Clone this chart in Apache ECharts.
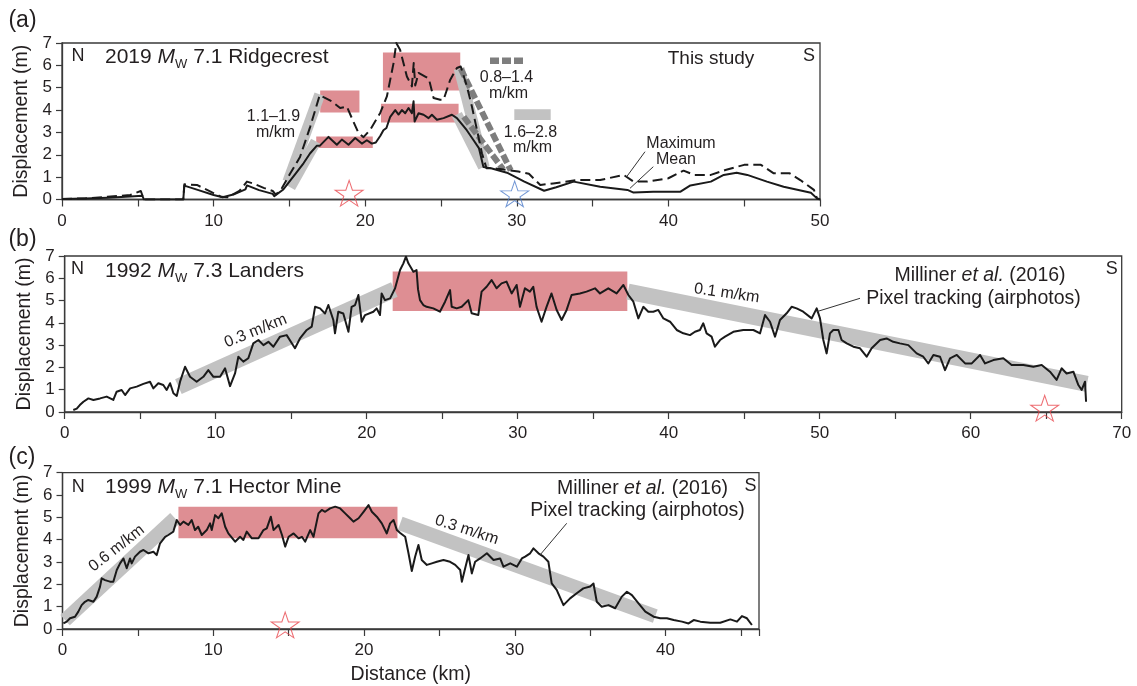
<!DOCTYPE html>
<html><head><meta charset="utf-8">
<script src="https://cdn.jsdelivr.net/npm/echarts@6/dist/echarts.min.js"></script>
<style>html,body{margin:0;padding:0;background:#fff}#c{width:1137px;height:686px}</style>
</head><body><div id="c"></div>
<script>
// ---------- DATA ----------
const xTickLabels = [0,10,20,30,40,50,60,70];
const xMaxA = 50, xMaxB = 70, xMaxC = 46.2;
const yMax = 7;

// (a) Ridgecrest: mean (solid) and maximum (dashed)
const ridgecrestMean = [[0,0.02],[1.5,0.04],[3,0.08],[4.5,0.13],[5.3,0.17],[5.4,0],[8.0,0],[8.07,0.62],[9.0,0.42],[10.0,0.2],[10.6,0.1],[11.3,0.22],[12.1,0.45],[12.2,0.63],[13.0,0.42],[13.9,0.25],[14.0,0.15],[14.6,0.45],[15.27,1.03],[15.93,1.62],[16.37,2.07],[16.8,2.4],[17.0,2.4],[17.58,2.8],[18.13,2.45],[18.46,2.68],[18.9,2.45],[19.34,2.75],[19.78,2.5],[20.11,2.65],[20.44,2.5],[20.7,2.55],[21.0,2.85],[21.2,3.1],[21.4,3.2],[21.65,3.7],[21.98,4.0],[22.2,3.8],[22.42,4.0],[22.64,3.86],[22.86,4.09],[23.08,3.86],[23.19,4.39],[23.26,3.49],[23.52,3.86],[23.85,3.79],[24.18,3.64],[24.4,3.79],[24.73,3.57],[25.17,3.64],[25.72,3.79],[26.05,3.64],[26.7,3.1],[27.15,2.65],[27.5,2.3],[27.8,1.45],[28.3,1.4],[29.35,1.2],[30.5,0.8],[31.8,0.39],[32.6,0.55],[33.75,0.8],[35.5,0.57],[37.3,0.43],[37.7,0.31],[39.0,0.35],[40.8,0.35],[41.45,0.63],[42.8,0.8],[43.65,1.1],[44.5,1.2],[45.2,1.1],[46.5,0.8],[47.6,0.57],[49.4,0.3],[49.8,0.05],[50,0]];
const ridgecrestMax = [[0,0.02],[1.5,0.05],[3,0.12],[4.5,0.2],[5.2,0.38],[5.3,0.4],[5.4,0],[8.0,0],[8.07,0.68],[8.9,0.65],[9.8,0.35],[10.5,0.12],[10.9,0.1],[11.7,0.38],[12.2,0.8],[12.6,0.72],[13.3,0.52],[13.9,0.38],[14.1,0.22],[14.5,0.5],[15.05,1.16],[15.7,1.9],[16.37,3.25],[17.0,4.67],[17.8,4.39],[18.35,4.09],[18.79,4.16],[19.12,3.64],[19.56,2.97],[19.89,2.79],[20.33,3.12],[20.99,3.87],[21.43,4.61],[21.87,6.1],[22.05,7.0],[22.3,6.7],[22.75,5.5],[23.08,5.06],[23.2,6.1],[23.3,5.1],[23.52,5.66],[23.96,5.5],[24.2,5.4],[24.51,4.54],[24.95,4.46],[25.17,4.46],[25.61,5.36],[26.05,5.88],[26.3,5.95],[26.71,5.06],[27.04,4.16],[27.37,3.12],[27.7,2.07],[28.0,1.4],[28.5,1.4],[29.0,1.35],[30.1,1.25],[30.8,1.15],[31.55,0.65],[32.4,0.72],[34.0,0.87],[35.5,0.87],[37.05,1.1],[37.7,0.8],[38.6,0.8],[40.0,0.95],[41.0,1.29],[41.7,1.1],[42.8,1.1],[43.76,1.32],[45.0,1.55],[46.1,1.55],[46.95,1.17],[48.0,1.17],[48.7,0.87],[49.6,0.43],[49.8,0.05],[50,0]];
const ridgecrestBoxes = [[17.03,19.62,3.89,4.88],[16.77,20.5,2.3,2.82],[21.17,26.27,4.88,6.58],[21.04,26.16,3.44,4.28]]; // [x1,x2,y1,y2]
const ridgecrestGrayBands = [[[14.9,0.8],[17.0,4.7]],[[15.05,0.55],[16.75,2.6]],[[26.2,5.85],[27.85,1.45]],[[26.05,3.8],[27.8,1.45]]];
const ridgecrestDottedBands = [[[26.3,5.85],[29.6,1.3]],[[26.5,3.7],[29.1,1.35]]];
const ridgecrestRedStars = [[18.94,0.28]];
const ridgecrestBlueStars = [[29.86,0.25]];

// (b) Landers
const landers = [[0.57,0.09],[0.8,0.15],[1.0,0.31],[1.24,0.46],[1.57,0.61],[1.9,0.54],[2.34,0.61],[2.78,0.69],[3.22,0.54],[3.44,0.91],[3.77,0.99],[4.0,0.76],[4.33,1.06],[4.77,1.14],[5.21,1.26],[5.65,1.36],[5.87,1.06],[6.2,1.29],[6.53,1.21],[6.75,0.99],[6.98,1.29],[7.2,0.84],[7.42,0.72],[7.64,1.36],[7.97,2.03],[8.3,1.58],[8.74,1.36],[9.18,1.58],[9.51,1.88],[9.85,1.58],[10.29,1.58],[10.62,1.96],[10.95,1.16],[11.28,1.73],[11.5,2.48],[11.83,2.26],[12.16,2.41],[12.49,3.08],[12.83,3.23],[13.16,3.0],[13.49,3.15],[13.82,2.93],[14.26,3.38],[14.7,3.45],[15.25,2.86],[15.58,3.3],[16.03,3.68],[16.36,3.83],[16.58,4.72],[16.91,4.65],[17.24,4.42],[17.46,4.8],[17.79,4.13],[17.9,3.53],[18.12,4.5],[18.45,4.42],[18.79,3.6],[19.0,4.72],[19.23,4.8],[19.45,5.25],[19.67,4.05],[19.89,4.35],[20.44,4.5],[20.66,4.65],[20.88,4.35],[20.99,5.32],[21.21,5.02],[21.55,5.1],[21.88,5.55],[22.21,6.37],[22.43,6.67],[22.6,6.97],[22.76,6.67],[23.09,6.29],[23.3,6.37],[23.4,5.5],[23.53,5.02],[23.75,4.8],[23.97,4.72],[24.41,4.65],[24.85,4.5],[25.19,4.95],[25.52,5.47],[25.63,4.72],[25.96,4.65],[26.29,4.72],[26.73,5.02],[26.95,4.43],[27.39,4.35],[27.61,5.4],[27.94,5.62],[28.27,5.92],[28.6,5.55],[28.93,5.77],[29.26,5.85],[29.6,5.32],[29.93,5.7],[30.15,4.72],[30.48,5.55],[30.81,5.4],[31.03,5.62],[31.25,4.72],[31.58,4.05],[31.91,4.72],[32.24,5.32],[32.58,4.58],[32.91,4.13],[33.24,4.58],[33.57,5.25],[34.12,5.32],[34.56,5.4],[35.12,5.55],[35.45,5.32],[36.0,5.55],[36.55,5.32],[37.0,5.7],[37.33,5.25],[37.66,4.95],[37.99,4.2],[38.32,4.72],[38.65,4.5],[38.98,4.5],[39.31,4.58],[39.65,4.2],[40.09,4.05],[40.53,3.68],[40.97,3.53],[41.41,3.45],[41.74,3.6],[42.07,3.68],[42.29,3.98],[42.51,3.53],[42.84,3.38],[43.06,2.93],[43.4,3.23],[43.73,3.38],[44.28,3.6],[44.94,3.68],[45.61,3.68],[46.05,3.53],[46.38,4.35],[46.71,4.05],[47.04,3.38],[47.37,4.13],[47.81,4.43],[48.14,4.72],[48.47,4.65],[48.91,4.5],[49.47,4.2],[49.8,4.65],[50.02,4.2],[50.24,3.23],[50.46,2.63],[50.68,3.53],[50.9,3.68],[51.24,3.68],[51.45,3.23],[51.79,3.08],[52.23,2.93],[52.67,2.86],[53.11,2.48],[53.44,2.86],[54.0,3.23],[54.43,3.3],[54.87,3.15],[55.31,3.08],[55.87,3.0],[56.42,2.63],[56.86,2.48],[57.19,2.18],[57.53,2.56],[57.97,2.48],[58.3,1.88],[58.63,2.41],[59.08,2.56],[59.63,2.18],[60.07,2.18],[60.62,2.56],[60.95,2.18],[61.5,2.33],[62.16,2.41],[62.71,2.11],[63.49,2.11],[64.15,2.03],[64.7,2.11],[65.25,1.81],[65.69,1.44],[66.02,1.96],[66.35,1.73],[66.8,1.81],[67.13,1.21],[67.35,0.99],[67.57,1.36],[67.64,0.46]];
const landersBoxes = [[21.72,37.26,4.53,6.3]];
const landersGrayBands = [[[7.53,1.14],[21.83,5.5]],[[37.3,5.4],[67.7,1.26]]];
const landersStars = [[64.9,0.17]];

// (c) Hector Mine
const hectorMine = [[0.06,0.25],[0.28,0.33],[0.5,0.48],[0.83,0.55],[1.05,0.78],[1.27,1.07],[1.49,1.22],[1.71,1.3],[2.05,1.22],[2.27,1.45],[2.49,1.9],[2.6,2.27],[2.82,2.19],[3.15,2.12],[3.37,2.12],[3.6,2.64],[3.82,2.94],[4.04,3.16],[4.26,2.72],[4.48,3.16],[4.59,2.94],[4.81,3.24],[5.14,3.46],[5.37,3.54],[5.7,3.39],[6.03,3.46],[6.25,3.31],[6.47,3.84],[6.81,4.13],[7.02,4.21],[7.35,4.36],[7.58,4.88],[7.8,4.66],[8.02,4.81],[8.35,4.66],[8.57,4.88],[8.79,4.43],[9.0,4.58],[9.24,4.21],[9.57,4.43],[9.79,4.73],[9.9,4.43],[10.12,5.1],[10.34,4.96],[10.56,5.18],[10.79,4.58],[11.0,4.28],[11.45,3.91],[11.78,4.13],[12.0,3.99],[12.22,4.36],[12.56,4.06],[13.0,4.06],[13.33,4.43],[13.55,4.51],[13.82,5.03],[14.0,4.43],[14.33,4.66],[14.56,4.21],[14.77,3.69],[15.0,4.13],[15.33,4.28],[15.66,4.06],[15.88,4.13],[16.1,3.91],[16.43,4.43],[16.65,4.13],[16.98,5.18],[17.2,5.33],[17.42,5.25],[17.75,5.4],[18.09,5.48],[18.42,5.4],[18.75,5.18],[19.08,4.96],[19.3,4.81],[19.64,4.96],[19.97,5.25],[20.3,5.55],[20.52,5.25],[20.85,5.03],[21.18,4.73],[21.51,4.28],[21.73,4.73],[21.96,4.88],[22.18,4.43],[22.4,4.3],[22.73,4.13],[22.95,3.39],[23.17,2.6],[23.39,3.24],[23.61,3.76],[23.83,3.09],[24.17,2.87],[24.5,2.94],[24.83,3.01],[25.27,3.09],[25.71,3.01],[26.05,2.87],[26.38,2.64],[26.49,2.12],[26.71,2.72],[26.93,3.31],[27.15,2.49],[27.37,3.01],[27.7,3.16],[28.15,3.39],[28.59,3.09],[29.03,3.16],[29.25,2.79],[29.7,2.94],[30.14,2.79],[30.47,3.16],[30.69,3.24],[31.02,3.39],[31.24,3.61],[31.57,3.39],[31.9,3.24],[32.23,3.01],[32.45,2.04],[32.78,1.75],[33.23,1.07],[33.67,1.37],[34.11,1.6],[34.55,1.82],[35.0,1.9],[35.22,2.04],[35.44,1.22],[35.77,1.0],[36.22,1.07],[36.66,0.93],[37.1,1.45],[37.44,1.67],[37.77,1.52],[38.21,1.15],[38.66,0.78],[39.21,0.55],[39.65,0.48],[40.09,0.48],[40.54,0.4],[41.09,0.33],[41.53,0.25],[41.87,0.4],[42.31,0.33],[42.97,0.28],[43.63,0.28],[44.3,0.43],[44.74,0.33],[45.07,0.58],[45.4,0.48],[45.73,0.18]];
const hectorBoxes = [[7.69,22.22,4.06,5.48]];
const hectorGrayBands = [[[0.17,0.4],[7.46,4.96]],[[22.4,4.73],[39.32,0.58]]];
const hectorStars = [[14.77,0.18]];

// ---------- STYLE ----------
const FONT = '"Liberation Sans", Arial, Helvetica, sans-serif';
const TXT = '#231f20';
const AX = '#3a3a3a';
const RED_BOX = '#de8e93';
const GRAY = '#c2c2c2';
const DOT_GRAY = '#7e7e7e';
const STAR = 'path://M0,-10 L2.245,-3.09 L9.511,-3.09 L3.633,1.18 L5.878,8.09 L0,3.82 L-5.878,8.09 L-3.633,1.18 L-9.511,-3.09 L-2.245,-3.09 Z';

const grids = [
  {left:62, top:43, width:758, height:156.5},
  {left:64.7, top:256, width:1057, height:156},
  {left:62.5, top:472.7, width:696.5, height:156.3}
].map(g => Object.assign({show:true, borderColor:AX, borderWidth:1.3, backgroundColor:'transparent', containLabel:false, outerBoundsMode:'none'}, g));
const xMaxes = [xMaxA, xMaxB, xMaxC];

const xAxes = xMaxes.map((mx,i) => ({
  type:'value', gridIndex:i, min:0, max:mx, interval:5,
  axisLine:{show:true, onZero:false, lineStyle:{color:AX, width:1.3}},
  axisTick:{show:true, length:7, interval:0, lineStyle:{color:AX, width:1.2}},
  axisLabel:{interval:0, showMinLabel:true, showMaxLabel:true, margin:13, fontSize:17, color:TXT, fontFamily:FONT,
    formatter: v => xTickLabels.indexOf(v) >= 0 ? String(v) : ''},
  splitLine:{show:false},
  name: i===2 ? 'Distance (km)' : '', nameLocation:'middle', nameGap:36,
  nameTextStyle:{fontSize:19.5, color:TXT, fontFamily:FONT}
}));
const yAxes = [0,1,2].map(i => ({
  type:'value', gridIndex:i, min:0, max:yMax, interval:1,
  axisLine:{show:true, onZero:false, lineStyle:{color:AX, width:1.3}},
  axisTick:{show:true, length:6, lineStyle:{color:AX, width:1.2}},
  axisLabel:{margin:10, fontSize:17, color:TXT, fontFamily:FONT},
  splitLine:{show:false},
  name:'Displacement (m)', nameLocation:'middle', nameGap:27, nameRotate:90,
  nameTextStyle:{fontSize:19.5, color:TXT, fontFamily:FONT}
}));

const series = [];
function boxSeries(g, boxes){
  series.push({type:'line', xAxisIndex:g, yAxisIndex:g, data:[], z:1, silent:true,
    markArea:{silent:true, itemStyle:{color:RED_BOX}, data: boxes.map(b => [{coord:[b[0],b[2]]},{coord:[b[1],b[3]]}])}});
}
function bandSeries(g, segs, width, color, dash){
  segs.forEach(s => series.push({type:'line', xAxisIndex:g, yAxisIndex:g, data:s, symbol:'none', silent:true, z:2,
    lineStyle:{color:color, width:width, type:dash||'solid', cap:'butt'}}));
}
function lineSeries(g, data, dash){
  series.push({type:'line', xAxisIndex:g, yAxisIndex:g, data:data, symbol:'none', silent:true, z:3,
    lineStyle:{color:'#1a1a1a', width:2, type:dash||'solid', join:'round'}});
}
function starSeries(g, data, color){
  series.push({type:'scatter', xAxisIndex:g, yAxisIndex:g, data:data, symbol:STAR, symbolSize:[28,27], symbolKeepAspect:true, clip:false, z:4, silent:true,
    itemStyle:{color:'rgba(0,0,0,0)', borderColor:color, borderWidth:1}});
}
// (a)
boxSeries(0, ridgecrestBoxes);
bandSeries(0, ridgecrestGrayBands, 11, GRAY);
bandSeries(0, ridgecrestDottedBands, 6, DOT_GRAY, [9,3]);
lineSeries(0, ridgecrestMax, [10,5]);
lineSeries(0, ridgecrestMean);
starSeries(0, ridgecrestRedStars, '#e8474d');
starSeries(0, ridgecrestBlueStars, '#4d7cc9');
// (b)
boxSeries(1, landersBoxes);
bandSeries(1, landersGrayBands, 16, GRAY);
lineSeries(1, landers);
starSeries(1, landersStars, '#e8474d');
// (c)
boxSeries(2, hectorBoxes);
bandSeries(2, hectorGrayBands, 14, GRAY);
lineSeries(2, hectorMine);
starSeries(2, hectorStars, '#e8474d');

// ---------- ANNOTATIONS ----------
function T(x, y, text, size, extra){
  return Object.assign({type:'text', x:x, y:y, z:100, silent:true,
    style:{text:text, fontSize:size, fontFamily:FONT, fill:TXT, align:'center', verticalAlign:'middle', textAlign:'center', textVerticalAlign:'middle'}}, extra||{});
}
function rot(t, deg){ t.rotation = deg*Math.PI/180; return t; }
function titleText(x, y, year, mag, name){
  return {type:'text', x:x, y:y, z:100, silent:true, style:{
    text:'{n|'+year+' }{i|M}{s|W}{n| '+mag+' '+name+'}',
    align:'left', verticalAlign:'middle', textAlign:'left', textVerticalAlign:'middle',
    rich:{
      n:{fontSize:21, fontFamily:FONT, color:TXT, fill:TXT, lineHeight:26},
      i:{fontSize:21, fontFamily:FONT, fontStyle:'italic', color:TXT, fill:TXT, lineHeight:26},
      s:{fontSize:13, fontFamily:FONT, color:TXT, fill:TXT, lineHeight:13, verticalAlign:'bottom'}
    }}};
}
function L(x1,y1,x2,y2){ return {type:'line', z:100, silent:true, shape:{x1:x1,y1:y1,x2:x2,y2:y2}, style:{stroke:'#333', lineWidth:1}}; }
function milliner(x, y){
  return {type:'text', x:x, y:y, z:100, silent:true, style:{
    text:'{n|Milliner }{i|et al.}{n| (2016)}', align:'center', verticalAlign:'middle', textAlign:'center', textVerticalAlign:'middle',
    rich:{n:{fontSize:19.5, fontFamily:FONT, color:TXT, fill:TXT}, i:{fontSize:19.5, fontFamily:FONT, fontStyle:'italic', color:TXT, fill:TXT}}}};
}

const graphics = [
  T(22.5, 21, '(a)', 23), T(22.5, 240, '(b)', 23), T(22, 458, '(c)', 23),
  // (a)
  T(78, 56.5, 'N', 18), titleText(105, 57.5, '2019', '7.1', 'Ridgecrest'),
  T(711, 58.5, 'This study', 19), T(809, 56.5, 'S', 18),
  T(273.5, 117, '1.1\u20131.9', 16), T(275.5, 132.5, 'm/km', 16),
  {type:'line', z:100, silent:true, shape:{x1:490, y1:60.7, x2:523, y2:60.7}, style:{stroke:DOT_GRAY, lineWidth:6.5, lineDash:[9,3]}},
  T(506.5, 78, '0.8\u20131.4', 16), T(508.5, 93.5, 'm/km', 16),
  {type:'rect', z:100, silent:true, shape:{x:514.3, y:109.3, width:36.4, height:10.7}, style:{fill:GRAY}},
  T(530.5, 133, '1.6\u20132.8', 16), T(532.5, 148, 'm/km', 16),
  T(681, 144, 'Maximum', 16), T(676, 160, 'Mean', 16),
  L(645, 151.7, 626.7, 176.7), L(653.3, 166.7, 630, 188.3),
  // (b)
  T(77.5, 269.5, 'N', 18), titleText(105, 271.5, '1992', '7.3', 'Landers'),
  T(1111.7, 269.5, 'S', 18),
  milliner(980, 275.5), T(973.5, 298.5, 'Pixel tracking (airphotos)', 19.5),
  L(860, 298.3, 816.7, 311.7),
  rot(T(255.7, 331, '0.3 m/km', 16), 22), rot(T(726.7, 293.3, '0.1 m/km', 16), -8),
  // (c)
  T(78.3, 487, 'N', 18), titleText(105, 487.5, '1999', '7.1', 'Hector Mine'),
  T(750.5, 486.5, 'S', 18),
  milliner(642.5, 489), T(637.5, 510.5, 'Pixel tracking (airphotos)', 19.5),
  L(566.7, 523.3, 540, 555),
  rot(T(116.7, 548.3, '0.6 m/km', 16), 38), rot(T(466.7, 530, '0.3 m/km', 16), -18)
];

const chart = echarts.init(document.getElementById('c'), null, {renderer:'canvas'});
chart.setOption({
  animation:false, backgroundColor:'#fff',
  grid:grids, xAxis:xAxes, yAxis:yAxes, series:series,
  graphic:{elements:graphics}
});
</script></body></html>
